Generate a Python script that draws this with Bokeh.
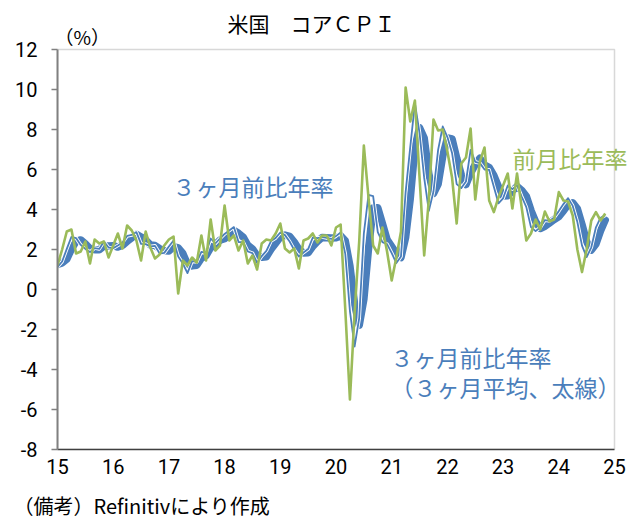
from bokeh.plotting import figure
from bokeh.models import FixedTicker, Range1d, Title, Label, BoxAnnotation
from bokeh.embed import file_html
from bokeh.resources import INLINE

# ---------------- data (monthly, Jan 2015 - Nov 2024) ----------------
start_year = 2015

# core CPI, month-on-month, annualized (%)
mom_annualized = [
    1.2, 2.0, 2.9, 3.0, 1.8, 1.9, 2.4, 1.3, 2.5, 2.3, 2.4, 1.6,          # 2015
    2.2, 2.8, 2.05, 3.2, 2.95, 2.45, 1.45, 2.9, 2.1, 1.55, 1.75, 2.2,    # 2016
    2.5, 2.65, -0.2, 1.45, 1.2, 1.6, 1.35, 2.7, 1.45, 3.5, 1.95, 2.2,    # 2017
    4.2, 2.45, 2.7, 1.95, 2.45, 1.3, 1.7, 1.0, 2.3, 2.5, 2.45, 2.8,      # 2018
    3.3, 2.05, 1.85, 2.05, 1.05, 2.45, 2.55, 2.8, 2.35, 2.7, 2.7, 2.2,   # 2019
    3.1, 3.25, -1.0, -5.5, -1.2, 2.4, 7.2, 4.6, 2.2, 1.8, 3.1, 1.9,      # 2020
    0.45, 1.6, 2.9, 10.1, 8.4, 9.45, 5.6, 1.7, 4.5, 8.5, 7.95, 8.0,      # 2021
    6.9, 5.6, 3.3, 6.3, 6.6, 8.05, 4.5, 6.4, 7.1, 4.45, 3.87, 4.6,       # 2022
    5.2, 5.8, 4.05, 5.8, 4.1, 2.45, 2.8, 3.5, 3.0, 3.9, 3.4, 3.5,        # 2023
    4.87, 4.45, 4.4, 3.7, 2.0, 0.87, 2.0, 3.45, 3.87, 3.45, 3.8,         # 2024
]

# core CPI, 3-month-on-3-month, annualized (%)
three_month = [
    1.13, 1.4, 2.03, 2.63, 2.57, 2.23, 2.03, 1.87, 2.07, 2.03, 2.4, 2.1,
    2.07, 2.2, 2.35, 2.68, 2.73, 2.87, 2.28, 2.27, 2.15, 2.18, 1.8, 1.83,
    2.15, 2.45, 1.65, 1.3, 0.82, 1.42, 1.38, 1.88, 1.83, 2.55, 2.3, 2.55,
    2.78, 2.95, 3.12, 2.37, 2.37, 1.9, 1.82, 1.33, 1.67, 1.93, 2.42, 2.58,
    2.85, 2.72, 2.4, 1.98, 1.65, 1.85, 2.02, 2.6, 2.57, 2.62, 2.58, 2.53,
    2.67, 2.85, 1.78, -1.08, -2.85, -1.43, 2.8, 4.73, 4.67, 2.87, 2.37, 2.27,
    1.82, 1.32, 1.65, 4.87, 7.13, 9.32, 7.82, 5.58, 3.93, 4.9, 6.98, 8.15,
    7.62, 6.83, 5.27, 5.07, 5.4, 6.98, 6.38, 6.32, 6.0, 5.98, 5.14, 4.31,
    4.56, 5.2, 5.02, 5.22, 4.65, 4.12, 3.12, 2.92, 3.1, 3.47, 3.43, 3.6,
    3.92, 4.27, 4.57, 4.18, 3.37, 2.19, 1.62, 2.11, 3.11, 3.59, 3.71,
]

# 3-month average of the 3-month annualized rate (%)
three_month_avg = [
    1.25, 1.33, 1.52, 2.02, 2.41, 2.48, 2.28, 2.04, 1.99, 1.99, 2.17, 2.18,
    2.19, 2.12, 2.21, 2.41, 2.59, 2.76, 2.63, 2.47, 2.23, 2.2, 2.04, 1.94,
    1.93, 2.14, 2.08, 1.8, 1.26, 1.18, 1.21, 1.56, 1.7, 2.09, 2.23, 2.47,
    2.54, 2.76, 2.95, 2.81, 2.62, 2.21, 2.03, 1.68, 1.61, 1.64, 2.01, 2.31,
    2.62, 2.72, 2.66, 2.37, 2.01, 1.83, 1.84, 2.16, 2.4, 2.6, 2.59, 2.58,
    2.59, 2.68, 2.43, 1.18, -0.72, -1.79, -0.49, 2.03, 4.07, 4.09, 3.3, 2.5,
    2.15, 1.8, 1.6, 2.61, 4.55, 7.11, 8.09, 7.57, 5.78, 4.8, 5.27, 6.68,
    7.58, 7.53, 6.57, 5.72, 5.25, 5.82, 6.25, 6.56, 6.23, 6.1, 5.71, 5.14,
    4.67, 4.69, 4.93, 5.15, 4.96, 4.66, 3.96, 3.39, 3.05, 3.16, 3.33, 3.5,
    3.65, 3.93, 4.25, 4.34, 4.04, 3.25, 2.39, 1.97, 2.28, 2.94, 3.47,
]

year_ticks = list(range(2015, 2026))
year_labels = [str(y)[2:] for y in year_ticks]
y_ticks = list(range(-8, 13, 2))
y_labels = [str(v) for v in y_ticks]
x_min, x_max = 2015, 2025
y_min, y_max = -8, 12

x = [start_year + i / 12 for i in range(len(mom_annualized))]

BLUE = "#4a7ebb"
GREEN = "#9bbb59"
JP = "Noto Sans CJK JP"
NUM = "Roboto"

# frame extends to top/right canvas edge so that the outside texts are not clipped;
# the visible plot box (-8..12, 2015..2025) is drawn with a BoxAnnotation
FRAME_W, FRAME_H = 570, 449
PX_PER_YEAR = 55.7
PX_PER_UNIT = 20.0

p = figure(
    frame_width=FRAME_W, frame_height=FRAME_H,
    min_border_left=57, min_border_right=0, min_border_top=0, min_border_bottom=0,
    x_range=Range1d(x_min, x_min + FRAME_W / PX_PER_YEAR),
    y_range=Range1d(y_min, y_min + FRAME_H / PX_PER_UNIT),
    output_backend="svg", toolbar_location=None, tools="",
    background_fill_color="white", border_fill_color="white",
)
p.title_location = None
p.grid.visible = False
p.outline_line_color = None

p.add_layout(BoxAnnotation(left=x_min, right=x_max, bottom=y_min, top=y_max,
                           fill_alpha=0, line_color="#7f7f7f", line_width=1.5,
                           level="underlay"))

# lines
p.line(x, three_month_avg, line_color=BLUE, line_width=7.5, line_join="round", line_cap="round")
p.line(x, three_month, line_color="white", line_width=3.6, line_join="round")
p.line(x, three_month, line_color=BLUE, line_width=1.8, line_join="round")
p.line(x, mom_annualized, line_color=GREEN, line_width=2.6, line_join="round")

# axes
xa = p.xaxis[0]
xa.bounds = (x_min, x_max)
xa.ticker = FixedTicker(ticks=year_ticks)
xa.major_label_overrides = dict(zip(year_ticks, year_labels))
xa.major_tick_line_color = None
xa.minor_tick_line_color = None
xa.axis_line_color = "#404040"
xa.axis_line_width = 1.5
xa.major_label_text_font = NUM
xa.major_label_text_font_size = "20px"
xa.major_label_text_color = "black"
xa.major_label_standoff = 3

ya = p.yaxis[0]
ya.bounds = (y_min, y_max)
ya.ticker = FixedTicker(ticks=y_ticks)
ya.major_label_overrides = dict(zip(y_ticks, y_labels))
ya.major_tick_line_color = "#808080"
ya.major_tick_line_width = 1.5
ya.major_tick_out = 6
ya.major_tick_in = 0
ya.minor_tick_line_color = None
ya.axis_line_color = "#808080"
ya.axis_line_width = 2
ya.major_label_text_font = NUM
ya.major_label_text_font_size = "20px"
ya.major_label_text_color = "black"
ya.major_label_standoff = 14

foot = Title(text="（備考）Refinitivにより作成", align="left", offset=-44, text_font=JP,
             text_font_size="20px", text_font_style="normal", text_color="black", standoff=24)
p.add_layout(foot, "below")

def add_text(txt, fx, fy, size, color="black", align="left"):
    # fx, fy: pixels from the frame's bottom-left corner
    p.add_layout(Label(x=fx, y=fy, x_units="screen", y_units="screen", text=txt,
                       text_font=JP, text_font_size=size, text_color=color,
                       text_align=align, text_baseline="middle"))

add_text("米国　コアＣＰＩ", 254, 427, "21px", align="center")
add_text("（%）", -3, 413, "19px")
add_text("３ヶ月前比年率", 115, 264, "23px", BLUE)
add_text("前月比年率", 455, 292, "23px", GREEN)
add_text("３ヶ月前比年率", 333, 93, "23px", BLUE)
add_text("（３ヶ月平均、太線）", 333, 63, "23px", BLUE)

open("out.html", "w").write(file_html(p, INLINE))
